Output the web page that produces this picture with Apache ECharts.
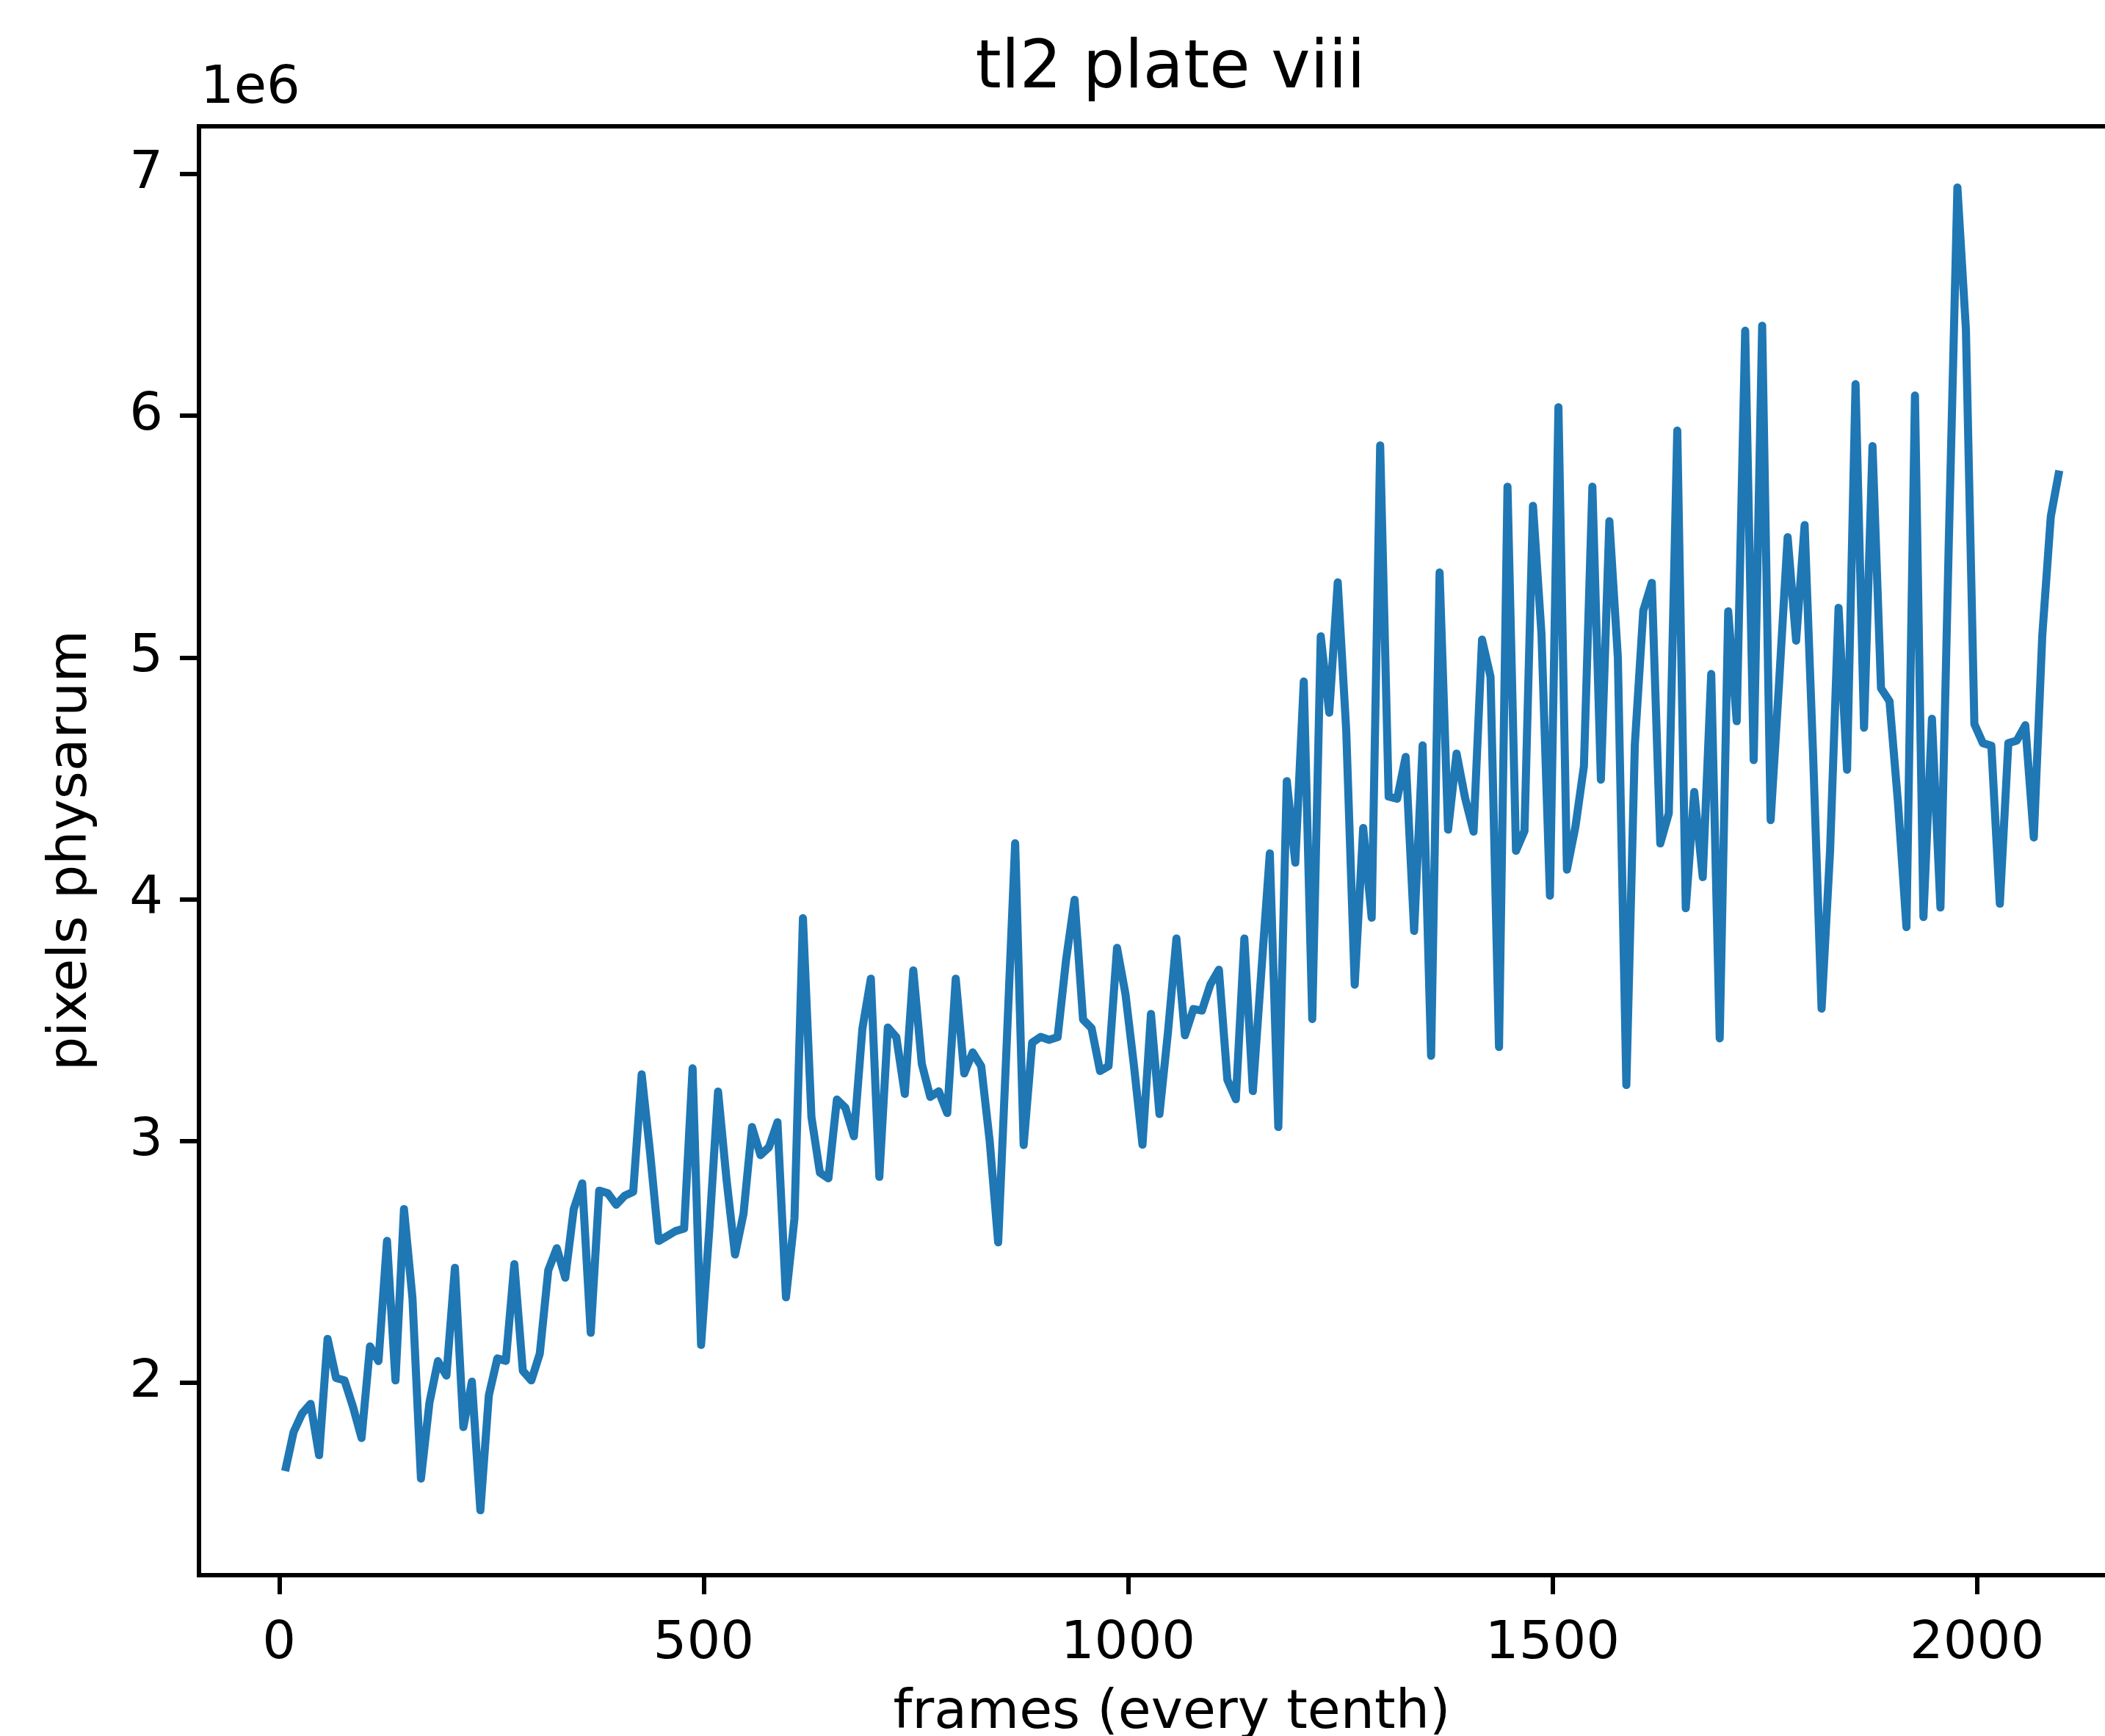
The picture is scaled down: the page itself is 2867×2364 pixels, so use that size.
<!DOCTYPE html>
<html>
<head>
<meta charset="utf-8">
<script src="https://cdn.jsdelivr.net/npm/echarts@6/dist/echarts.min.js"></script>
<style>
  html, body { margin: 0; padding: 0; background: #ffffff; overflow: hidden; width: 2867px; height: 2364px; }
  #chart { width: 3000px; height: 2364px; }
</style>
</head>
<body>
<div id="chart"></div>
<script>
// ---- data (pixel counts, in units of 1e6) ----
const titleText = 'tl2 plate viii';
const xLabel = 'frames (every tenth)';
const yLabel = 'pixels physarum';
const yOffsetText = '1e6';
const xTicks = [0, 500, 1000, 1500, 2000];
const yTicks = [2, 3, 4, 5, 6, 7];
const frameStart = 7;
const frameStep = 10;

// first 50 samples
const pixelsA = [
  1.635, 1.797, 1.873, 1.913, 1.701, 2.182, 2.020, 2.010, 1.90, 1.772,
  2.151, 2.09, 2.587, 2.010, 2.719, 2.35, 1.604, 1.918, 2.09, 2.03,
  2.476, 1.817, 2.005, 1.473, 1.949, 2.101, 2.091, 2.491, 2.050, 2.010,
  2.121, 2.466, 2.557, 2.435, 2.719, 2.825, 2.207, 2.795, 2.785, 2.737,
  2.774, 2.790, 3.276, 2.95, 2.587, 2.607, 2.628, 2.638, 3.301, 2.157
];
// samples 51 .. 100
const pixelsB = [
  2.65, 3.205, 2.84, 2.531, 2.70, 3.058, 2.942, 2.975, 3.078, 2.354,
  2.68, 3.922, 3.10, 2.869, 2.846, 3.172, 3.138, 3.020, 3.464, 3.672,
  2.852, 3.470, 3.43, 3.195, 3.706, 3.32, 3.183, 3.206, 3.116, 3.672,
  3.280, 3.367, 3.31, 3.0, 2.581, 3.4, 4.232, 2.984, 3.407, 3.431,
  3.419, 3.43, 3.75, 3.998, 3.503, 3.467, 3.290, 3.31, 3.799, 3.607
];
// samples 101 .. 150
const pixelsC = [
  3.31, 2.985, 3.526, 3.112, 3.45, 3.838, 3.438, 3.546, 3.54, 3.648,
  3.709, 3.254, 3.173, 3.838, 3.207, 3.70, 4.190, 3.058, 4.489, 4.152,
  4.901, 3.505, 5.088, 4.772, 5.311, 4.70, 3.647, 4.295, 3.924, 5.878,
  4.425, 4.416, 4.589, 3.869, 4.637, 3.353, 5.352, 4.288, 4.603, 4.42,
  4.280, 5.074, 4.92, 3.389, 5.707, 4.201, 4.283, 5.628, 5.1, 4.015
];
// samples 151 .. 210
const pixelsD = [
  6.036, 4.123, 4.3, 4.55, 5.707, 4.495, 5.564, 5.0, 3.232, 4.64,
  5.195, 5.309, 4.231, 4.356, 5.939, 3.963, 4.444, 4.092, 4.932, 3.425,
  5.191, 4.737, 6.352, 4.576, 6.373, 4.328, 4.9, 5.498, 5.070, 5.548,
  4.6, 3.548, 4.2, 5.206, 4.536, 6.131, 4.710, 5.875, 4.873, 4.82,
  4.40, 3.885, 6.084, 3.927, 4.747, 3.966, 5.5, 6.945, 6.36, 4.725,
  4.646, 4.635, 3.982, 4.646, 4.657, 4.720, 4.256, 5.092, 5.583, 5.774
];

const pixels = pixelsA.concat(pixelsB, pixelsC, pixelsD);
const seriesData = pixels.map((v, i) => [frameStart + i * frameStep, v]);

// ---- axis extents (matplotlib-style margins) ----
const xMin = -94.5, xMax = 2204.5;
const yMin = 1.2045, yMax = 7.1975;

const FONT = 'DejaVu Sans';
const chart = echarts.init(document.getElementById('chart'), null, { renderer: 'canvas', width: 3000, height: 2364 });

const gridLeft = 271, gridTop = 172, gridWidth = 2658, gridHeight = 1973;

chart.setOption({
  animation: false,
  backgroundColor: '#ffffff',
  grid: {
    left: gridLeft, top: gridTop, width: gridWidth, height: gridHeight,
    show: true, borderColor: '#000000', borderWidth: 6, backgroundColor: 'transparent',
    containLabel: false
  },
  xAxis: {
    type: 'value', min: xMin, max: xMax,
    axisLine: { show: true, onZero: false, lineStyle: { color: '#000', width: 6 } },
    axisTick: { show: true, inside: false, length: 26, lineStyle: { color: '#000', width: 6 }, customValues: xTicks },
    axisLabel: { show: true, margin: 58, fontFamily: FONT, fontSize: 72, color: '#000', customValues: xTicks,
                 formatter: (v) => String(v) },
    splitLine: { show: false }
  },
  yAxis: {
    type: 'value', min: yMin, max: yMax,
    axisLine: { show: true, onZero: false, lineStyle: { color: '#000', width: 6 } },
    axisTick: { show: true, inside: false, length: 26, lineStyle: { color: '#000', width: 6 }, customValues: yTicks },
    axisLabel: { show: true, margin: 49, fontFamily: FONT, fontSize: 72, color: '#000', customValues: yTicks,
                 formatter: (v) => String(v) },
    splitLine: { show: false }
  },
  series: [{
    type: 'line',
    data: seriesData,
    showSymbol: false,
    symbol: 'none',
    smooth: false,
    lineStyle: { color: '#1f77b4', width: 11, join: 'round', cap: 'butt' },
    silent: true
  }],
  graphic: [
    { type: 'text', x: 1594, y: 96, style: { text: titleText, font: '90px "DejaVu Sans"', fill: '#000', align: 'center', verticalAlign: 'middle' } },
    { type: 'text', x: 273, y: 121, style: { text: yOffsetText, font: '72px "DejaVu Sans"', fill: '#000', align: 'left', verticalAlign: 'middle' } },
    { type: 'text', x: 98, y: 1158, rotation: Math.PI / 2, style: { text: yLabel, font: '73px "DejaVu Sans"', fill: '#000', align: 'center', verticalAlign: 'middle' } },
    { type: 'text', x: 1596, y: 2334, style: { text: xLabel, font: '73px "DejaVu Sans"', fill: '#000', align: 'center', verticalAlign: 'middle' } }
  ]
});
</script>
</body>
</html>
